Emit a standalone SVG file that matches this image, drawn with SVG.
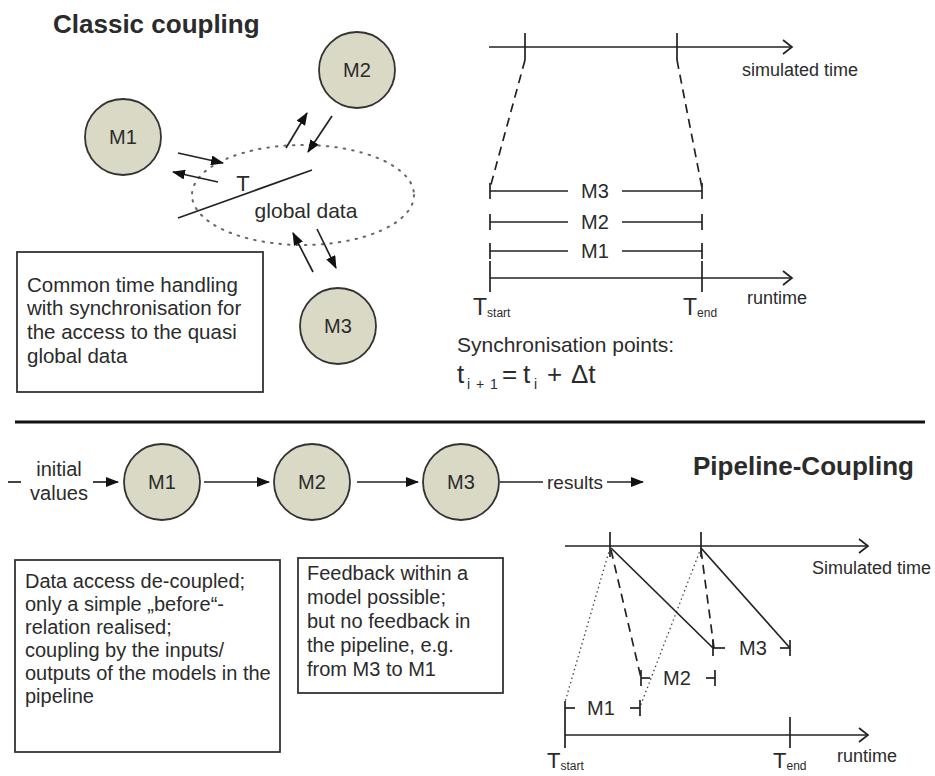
<svg xmlns="http://www.w3.org/2000/svg" width="935" height="776" viewBox="0 0 935 776">
<style>
text{font-family:"Liberation Sans",Arial,sans-serif;fill:#2b2b2b}
.node circle{fill:#d9d9c5;stroke:#333;stroke-width:1.8}
.nl{font-size:20px;text-anchor:middle}
.ln{stroke:#222;stroke-width:1.7;fill:none}
.ar{stroke:#222;stroke-width:1.7;fill:none;marker-end:url(#ah)}
.ax{stroke:#222;stroke-width:1.7;fill:none;marker-end:url(#open)}
.box{fill:#fff;stroke:#333;stroke-width:1.8}
.bt{font-size:20.5px}
.bp{font-size:20px}
.bf{font-size:20px}
.dash{stroke:#222;stroke-width:1.7;stroke-dasharray:9 6;fill:none}
.dot{stroke:#444;stroke-width:1.3;stroke-dasharray:1.5 3;fill:none}
.ell{fill:none;stroke:#666;stroke-width:2;stroke-dasharray:1.5 7;stroke-linecap:round}
.title{font-size:26px;font-weight:bold}
.lab{font-size:18px}
.mid{text-anchor:middle}
.big{font-size:26px}
.sub{font-size:14px}
</style>
<defs>
<marker id="ah" markerWidth="13" markerHeight="10" refX="12" refY="5" orient="auto" markerUnits="userSpaceOnUse"><path d="M0,0 L13,5 L0,10 z" fill="#111"/></marker>
<marker id="open" markerWidth="12" markerHeight="16" refX="10" refY="8" orient="auto" markerUnits="userSpaceOnUse"><path d="M1,1 L10,8 L1,15" fill="none" stroke="#222" stroke-width="1.7"/></marker>
</defs>

<!-- Top section -->
<text class="title" x="53" y="33">Classic coupling</text>

<g id="globaldata">
<ellipse class="ell" cx="303" cy="195" rx="111" ry="50"/>
<text x="306" y="218" class="mid" style="font-size:21px">global data</text>
</g>
<g id="T-label"><text x="243" y="191" class="mid" style="font-size:22px">T</text></g>

<g id="c-M1" class="node"><circle cx="123" cy="137" r="38"/><text class="nl" x="123" y="144">M1</text></g>
<g id="c-M2" class="node"><circle cx="357" cy="70" r="38"/><text class="nl" x="357" y="77">M2</text></g>
<g id="c-M3" class="node"><circle cx="338" cy="326" r="38"/><text class="nl" x="338" y="333">M3</text></g>

<g id="note-classic">
<rect class="box" x="17" y="252" width="246" height="140"/>
<text class="bt" x="27" y="292">Common time handling</text>
<text class="bt" x="27" y="315">with synchronisation for</text>
<text class="bt" x="27" y="339">the access to the quasi</text>
<text class="bt" x="27" y="363">global data</text>
</g>

<g id="classic-connectors">
<line class="ar" x1="178" y1="153" x2="223" y2="163"/>
<line class="ar" x1="218" y1="182" x2="173" y2="172"/>
<line class="ar" x1="286" y1="148" x2="307" y2="113"/>
<line class="ar" x1="332" y1="116" x2="308" y2="152"/>
<line class="ar" x1="313" y1="272" x2="293" y2="233"/>
<line class="ar" x1="317" y1="229" x2="336" y2="268"/>
<line class="ln" x1="178" y1="218" x2="312" y2="170"/>
</g>

<g id="classic-timeline">
<line class="ax" x1="489" y1="47" x2="792" y2="47"/>
<line class="ln" x1="525" y1="33" x2="525" y2="60"/>
<line class="ln" x1="677" y1="33" x2="677" y2="60"/>
<text class="lab" x="742" y="76">simulated time</text>
<line class="dash" x1="525" y1="60" x2="490" y2="188"/>
<line class="dash" x1="677" y1="60" x2="702" y2="188"/>
<line class="ln" x1="490" y1="191" x2="568" y2="191"/>
<line class="ln" x1="622" y1="191" x2="702" y2="191"/>
<line class="ln" x1="490" y1="183" x2="490" y2="199"/>
<line class="ln" x1="702" y1="183" x2="702" y2="199"/>
<text class="nl" x="595" y="198">M3</text>
<line class="ln" x1="490" y1="222" x2="568" y2="222"/>
<line class="ln" x1="622" y1="222" x2="702" y2="222"/>
<line class="ln" x1="490" y1="214" x2="490" y2="230"/>
<line class="ln" x1="702" y1="214" x2="702" y2="230"/>
<text class="nl" x="595" y="229">M2</text>
<line class="ln" x1="490" y1="251" x2="568" y2="251"/>
<line class="ln" x1="622" y1="251" x2="702" y2="251"/>
<line class="ln" x1="490" y1="243" x2="490" y2="259"/>
<line class="ln" x1="702" y1="243" x2="702" y2="259"/>
<text class="nl" x="595" y="258">M1</text>
<line class="ax" x1="490" y1="278" x2="792" y2="278"/>
<line class="ln" x1="490" y1="261" x2="490" y2="292"/>
<line class="ln" x1="702" y1="261" x2="702" y2="292"/>
<text class="lab" x="747" y="304">runtime</text>
<text x="473" y="315" style="font-size:23px">T<tspan dy="2" style="font-size:12px">start</tspan></text>
<text x="683" y="315" style="font-size:23px">T<tspan dy="2" style="font-size:12px">end</tspan></text>
<text x="457" y="352" style="font-size:21px">Synchronisation points:</text>
<text x="457" y="383" class="big">t</text>
<text x="467" y="389" class="sub">i</text>
<text x="476" y="389" class="sub">+</text>
<text x="490" y="389" class="sub">1</text>
<text x="502" y="383" class="big">=</text>
<text x="523" y="383" class="big">t</text>
<text x="534" y="389" class="sub">i</text>
<text x="547" y="383" class="big">+</text>
<text x="571" y="383" class="big">Δt</text>
</g>

<line id="separator" x1="15" y1="422" x2="925" y2="422" stroke="#111" stroke-width="3"/>

<!-- Bottom section -->
<text class="title" x="693" y="475">Pipeline-Coupling</text>

<g id="p-M1" class="node"><circle cx="162" cy="482" r="38"/><text class="nl" x="162" y="489">M1</text></g>
<g id="p-M2" class="node"><circle cx="312" cy="482" r="38"/><text class="nl" x="312" y="489">M2</text></g>
<g id="p-M3" class="node"><circle cx="461" cy="482" r="38"/><text class="nl" x="461" y="489">M3</text></g>

<g id="pipeline-labels">
<text x="59" y="476" class="mid" style="font-size:20px">initial</text>
<text x="59" y="500" class="mid" style="font-size:20px">values</text>
<text x="575" y="489" class="mid" style="font-size:19px">results</text>
</g>

<g id="pipeline-connectors">
<line class="ln" x1="8" y1="482" x2="21" y2="482"/>
<line class="ar" x1="93" y1="482" x2="118" y2="482"/>
<line class="ar" x1="204" y1="482" x2="269" y2="482"/>
<line class="ar" x1="357" y1="482" x2="418" y2="482"/>
<line class="ln" x1="500" y1="482" x2="543" y2="482"/>
<line class="ar" x1="607" y1="482" x2="643" y2="482"/>
</g>

<g id="note-pipeline">
<rect class="box" x="15" y="560" width="265" height="192"/>
<text class="bp" x="25" y="588">Data access de-coupled;</text>
<text class="bp" x="25" y="611">only a simple „before“-</text>
<text class="bp" x="25" y="634">relation realised;</text>
<text class="bp" x="25" y="657">coupling by the inputs/</text>
<text class="bp" x="25" y="680">outputs of the models in the</text>
<text class="bp" x="25" y="703">pipeline</text>
</g>

<g id="note-feedback">
<rect class="box" x="298" y="558" width="205" height="135"/>
<text class="bf" x="307" y="580">Feedback within a</text>
<text class="bf" x="307" y="604">model possible;</text>
<text class="bf" x="307" y="628">but no feedback in</text>
<text class="bf" x="307" y="652">the pipeline, e.g.</text>
<text class="bf" x="307" y="676">from M3 to M1</text>
</g>

<g id="pipeline-timeline">
<line class="ax" x1="565" y1="546" x2="868" y2="546"/>
<line class="ln" x1="610" y1="532" x2="610" y2="557"/>
<line class="ln" x1="701" y1="532" x2="701" y2="557"/>
<text class="lab" x="812" y="574">Simulated time</text>
<line class="dot" x1="610" y1="548" x2="565" y2="702"/>
<line class="dot" x1="701" y1="548" x2="640" y2="707"/>
<line class="dash" x1="611" y1="550" x2="641" y2="678"/>
<line class="dash" x1="701" y1="550" x2="714" y2="648"/>
<line class="ln" x1="611" y1="548" x2="713" y2="648"/>
<line class="ln" x1="701" y1="548" x2="790" y2="648"/>
<line class="ln" x1="713" y1="648" x2="725" y2="648"/>
<line class="ln" x1="780" y1="648" x2="790" y2="648"/>
<line class="ln" x1="713" y1="640" x2="713" y2="656"/>
<line class="ln" x1="790" y1="640" x2="790" y2="656"/>
<text class="nl" x="753" y="655">M3</text>
<line class="ln" x1="641" y1="678" x2="650" y2="678"/>
<line class="ln" x1="706" y1="678" x2="715" y2="678"/>
<line class="ln" x1="641" y1="670" x2="641" y2="686"/>
<line class="ln" x1="715" y1="670" x2="715" y2="686"/>
<text class="nl" x="677" y="685">M2</text>
<line class="ln" x1="565" y1="708" x2="575" y2="708"/>
<line class="ln" x1="630" y1="708" x2="640" y2="708"/>
<line class="ln" x1="640" y1="700" x2="640" y2="716"/>
<text class="nl" x="601" y="715">M1</text>
<line class="ax" x1="565" y1="735" x2="868" y2="735"/>
<line class="ln" x1="565" y1="701" x2="565" y2="748"/>
<line class="ln" x1="790" y1="717" x2="790" y2="748"/>
<text class="lab" x="837" y="762">runtime</text>
<text x="547" y="768" style="font-size:22px">T<tspan dy="2" style="font-size:12px">start</tspan></text>
<text x="773" y="768" style="font-size:22px">T<tspan dy="2" style="font-size:12px">end</tspan></text>
</g>
</svg>
